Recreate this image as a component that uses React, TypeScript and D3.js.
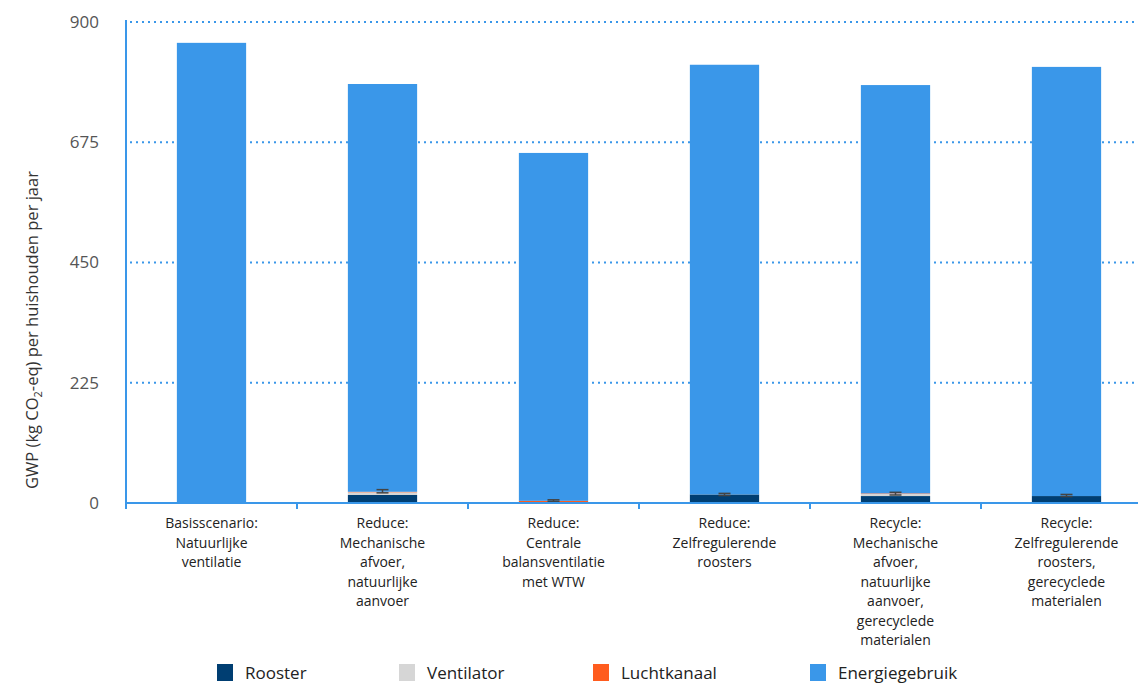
import React from "react";
import * as d3 from "d3";

// Scenario labels (one entry per line)
const categories: string[][] = [
  ["Basisscenario:", "Natuurlijke", "ventilatie"],
  ["Reduce:", "Mechanische", "afvoer,", "natuurlijke", "aanvoer"],
  ["Reduce:", "Centrale", "balansventilatie", "met WTW"],
  ["Reduce:", "Zelfregulerende", "roosters"],
  ["Recycle:", "Mechanische", "afvoer,", "natuurlijke", "aanvoer,", "gerecyclede", "materialen"],
  ["Recycle:", "Zelfregulerende", "roosters,", "gerecyclede", "materialen"],
];

const seriesNames = ["Rooster", "Ventilator", "Luchtkanaal", "Energiegebruik"];
const seriesColors = ["#003e72", "#d6d6d6", "#ff5c1e", "#3a97e9"];

// values in kg CO2-eq per household per year
const rooster = [0, 15, 0, 16, 13, 13];
const ventilator = [0, 5, 1, 0, 4, 0];
const luchtkanaal = [0, 1, 3, 0, 1, 0];
const energiegebruik = [861, 763, 651, 804, 764, 803];

// error bars on the material part
const errLow = [null, 19, 3, 14, 15, 12];
const errHigh = [null, 25, 6, 18, 20, 16];

const yTicks = [0, 225, 450, 675, 900];

const W = 1138;
const H = 683;
const margin = { top: 22, left: 126 };
const plotBottom = 503;

export default function App() {
  const rows = categories.map((c, i) => ({
    key: String(i),
    Rooster: rooster[i],
    Ventilator: ventilator[i],
    Luchtkanaal: luchtkanaal[i],
    Energiegebruik: energiegebruik[i],
  }));

  const x = d3
    .scaleBand<string>()
    .domain(rows.map((r) => r.key))
    .range([margin.left, margin.left + 171 * 6])
    .paddingInner(0.595)
    .paddingOuter(0.2975);

  const y = d3.scaleLinear().domain([0, 900]).range([plotBottom, margin.top]);

  const stacked = d3.stack<any>().keys(seriesNames)(rows);
  const step = x.step();
  const boundaries = d3.range(categories.length + 1).map((i) => margin.left + i * step);

  const legendX = [217, 399, 593, 810];
  const blue = "#3a97e9";

  return (
    <svg
      width={W}
      height={H}
      style={{ position: "absolute", left: 0, top: 0, background: "#fff" }}
      fontFamily="'Open Sans', Lato, sans-serif"
    >
      {/* grid */}
      {yTicks
        .filter((t) => t > 0)
        .map((t) => (
          <line
            key={t}
            x1={margin.left + 4}
            x2={W}
            y1={y(t)}
            y2={y(t)}
            stroke={blue}
            strokeWidth={2}
            strokeDasharray="2,4"
          />
        ))}
      {yTicks.map((t) => (
        <text
          key={t}
          x={99}
          y={y(t)}
          dy="0.35em"
          textAnchor="end"
          fontSize={17}
          fill="#555"
        >
          {t}
        </text>
      ))}
      <text
        transform={`translate(38,${330}) rotate(-90)`}
        textAnchor="middle"
        fontSize={16.5}
        fill="#333"
      >
        GWP (kg CO
        <tspan fontSize={11} dy={4}>
          2
        </tspan>
        <tspan dy={-4}>-eq) per huishouden per jaar</tspan>
      </text>

      {/* bars */}
      {stacked.map((s, si) => (
        <g key={s.key} fill={seriesColors[si]}>
          {s.map((d, i) => (
            <rect
              key={i}
              x={x(String(i))}
              width={x.bandwidth()}
              y={y(d[1])}
              height={Math.max(0, y(d[0]) - y(d[1]))}
            />
          ))}
        </g>
      ))}

      {/* error bars */}
      {errLow.map((lo, i) => {
        const hi = errHigh[i];
        if (lo == null || hi == null) return null;
        const cx = (x(String(i)) as number) + x.bandwidth() / 2;
        return (
          <g key={i} stroke="#444" strokeWidth={1.5}>
            <line x1={cx} x2={cx} y1={y(lo)} y2={y(hi)} />
            <line x1={cx - 6} x2={cx + 6} y1={y(lo)} y2={y(lo)} />
            <line x1={cx - 6} x2={cx + 6} y1={y(hi)} y2={y(hi)} />
          </g>
        );
      })}

      {/* axes */}
      <line x1={margin.left} x2={margin.left} y1={margin.top - 2} y2={plotBottom} stroke={blue} strokeWidth={2} />
      <line x1={margin.left - 1} x2={W} y1={plotBottom} y2={plotBottom} stroke={blue} strokeWidth={2} />
      {boundaries.map((b, i) => (
        <line key={i} x1={b} x2={b} y1={plotBottom} y2={plotBottom + 6} stroke={blue} strokeWidth={2} />
      ))}

      {/* category labels */}
      {categories.map((lines, i) => (
        <text
          key={i}
          x={(x(String(i)) as number) + x.bandwidth() / 2}
          y={528}
          textAnchor="middle"
          fontSize={14}
          fill="#222"
        >
          {lines.map((l, li) => (
            <tspan key={li} x={(x(String(i)) as number) + x.bandwidth() / 2} dy={li === 0 ? 0 : 19.5}>
              {l}
            </tspan>
          ))}
        </text>
      ))}

      {/* legend */}
      {seriesNames.map((n, i) => (
        <g key={n}>
          <rect x={legendX[i]} y={664} width={16} height={17} fill={seriesColors[i]} />
          <text x={legendX[i] + 28} y={673} dy="0.35em" fontSize={17} fill="#222">
            {n}
          </text>
        </g>
      ))}
    </svg>
  );
}
